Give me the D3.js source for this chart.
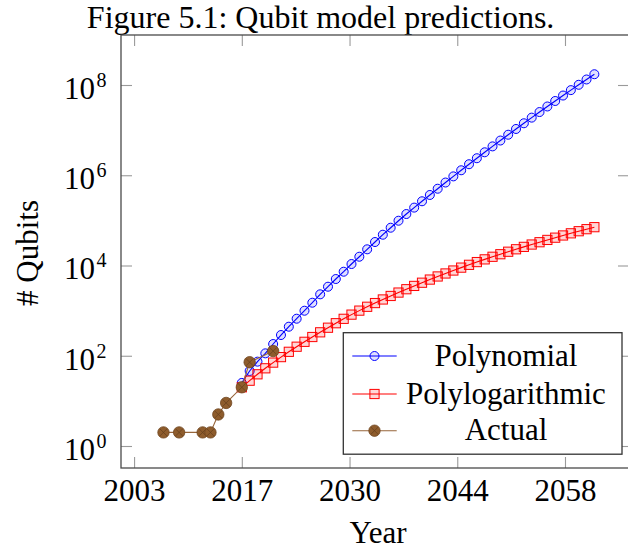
<!DOCTYPE html>
<html>
<head>
<meta charset="utf-8">
<script src="https://cdn.jsdelivr.net/npm/d3@7/dist/d3.min.js"></script>
<style>
  html, body { margin: 0; padding: 0; background: #fff; }
  svg { display: block; }
  text { font-family: "Liberation Serif", "Times New Roman", Times, serif; fill: #000; }
</style>
</head>
<body>
<svg id="chart" width="628" height="550"></svg>
<script>
// Measured qubit counts
const actualYears = [2007, 2009, 2012, 2013, 2014, 2015, 2017, 2018, 2021];
const actualQubits = [2, 2, 2, 2, 5, 9, 20, 72, 127];

// Model projections, one value per year
const predYears = [2017, 2018, 2019, 2020, 2021, 2022, 2023, 2024, 2025, 2026,
  2027, 2028, 2029, 2030, 2031, 2032, 2033, 2034, 2035, 2036,
  2037, 2038, 2039, 2040, 2041, 2042, 2043, 2044, 2045, 2046,
  2047, 2048, 2049, 2050, 2051, 2052, 2053, 2054, 2055, 2056,
  2057, 2058, 2059, 2060, 2061, 2062];

const polynomialQubits = [25, 46, 74, 113, 182, 288, 440, 662, 995, 1497,
  2298, 3387, 5017, 7281, 10785, 15650, 22830, 33140, 48100, 68760,
  98240, 138260, 191700, 265000, 365400, 502700, 690000, 944000, 1289000, 1755000,
  2384000, 3228000, 4362000, 5880000, 7905000, 10600000, 14180000, 18910000, 25170000, 33410000,
  44220000, 58410000, 76930000, 101100000, 132500000, 173200000];

const polylogQubits = [20, 28, 38.8, 52.7, 70.5, 93.3, 122.3, 158.6, 203.7, 260.2,
  330.7, 418.1, 526, 658.3, 815.6, 1000.5, 1217.6, 1471, 1767, 2113,
  2513, 2981, 3528, 4154, 4878, 5714, 6659, 7741, 8975, 10354,
  11912, 13675, 15612, 17780, 20203, 22889, 25870, 29160, 32800, 36880,
  41370, 46290, 51670, 57500, 63830, 70690];

// Axis ticks and their printed labels
const xTickValues = [2003.25, 2017, 2030.75, 2044.5, 2058.25];
const xTickLabels = ["2003", "2017", "2030", "2044", "2058"];
const yTickValues = [1, 1e2, 1e4, 1e6, 1e8];
const yTickExponents = ["0", "2", "4", "6", "8"];

const seriesNames = ["Polynomial", "Polylogarithmic", "Actual"];

const svg = d3.select("#chart");
const plotLeft = 121, plotRight = 629, plotTop = 35, plotBottom = 468;

const x = d3.scaleLinear().domain([2001.58, 2066.42]).range([plotLeft, plotRight]);
const y = d3.scaleLog().domain([Math.pow(10, -0.4875), Math.pow(10, 9.108)]).range([plotBottom, plotTop]);

const fontSize = 31;
const frameColor = "#4a4a4a";
const tickColor = "#9a9a9a";

// Title
svg.append("text")
  .attr("x", 320.6).attr("y", 28)
  .attr("text-anchor", "middle")
  .style("font-size", "32px")
  .text("Figure 5.1: Qubit model predictions.");

// Axes (ticks point inward, mirrored on top and right)
function styleAxis(g) {
  g.select(".domain").remove();
  g.selectAll(".tick line").attr("stroke", tickColor).attr("stroke-width", 1.1);
}

const xAxis = svg.append("g")
  .attr("transform", `translate(0,${plotBottom})`)
  .call(d3.axisBottom(x).tickValues(xTickValues)
    .tickFormat((d, i) => xTickLabels[i]).tickSize(-11).tickPadding(11));
styleAxis(xAxis);
xAxis.attr("font-family", null).attr("font-size", null);
xAxis.selectAll(".tick text").style("font-size", fontSize + "px");

svg.append("g")
  .attr("transform", `translate(0,${plotTop})`)
  .call(d3.axisTop(x).tickValues(xTickValues).tickFormat("").tickSize(-11))
  .call(styleAxis);

const yAxis = svg.append("g")
  .attr("transform", `translate(${plotLeft},0)`)
  .call(d3.axisLeft(y).tickValues(yTickValues).tickFormat("").tickSize(-11).tickPadding(14));
styleAxis(yAxis);
yAxis.attr("font-family", null).attr("font-size", null);
yAxis.selectAll(".tick").each(function (d, i) {
  const t = d3.select(this).select("text");
  t.attr("dy", null).attr("x", null).attr("y", 0).attr("text-anchor", null);
  t.append("tspan").attr("x", -26).attr("dy", "13.3px").attr("text-anchor", "end")
    .style("font-size", fontSize + "px").text("10");
  t.append("tspan").attr("x", -24.5).attr("dy", "-12px").attr("text-anchor", "start")
    .style("font-size", "20px").text(yTickExponents[i]);
});

svg.append("g")
  .attr("transform", `translate(${plotRight},0)`)
  .call(d3.axisRight(y).tickValues(yTickValues).tickFormat("").tickSize(-11))
  .call(styleAxis);

// Frame
svg.append("rect")
  .attr("x", plotLeft).attr("y", plotTop)
  .attr("width", plotRight - plotLeft).attr("height", plotBottom - plotTop)
  .attr("fill", "none").attr("stroke", frameColor).attr("stroke-width", 1.3);

// Axis titles
svg.append("text")
  .attr("x", 378).attr("y", 543)
  .attr("text-anchor", "middle")
  .style("font-size", fontSize + "px")
  .text("Year");

svg.append("text")
  .attr("transform", "translate(38,253) rotate(-90)")
  .attr("text-anchor", "middle")
  .style("font-size", fontSize + "px")
  .text("# Qubits");

// Series
const line = d3.line().x(d => x(d[0])).y(d => y(d[1]));
const polyData = predYears.map((yr, i) => [yr, polynomialQubits[i]]);
const plogData = predYears.map((yr, i) => [yr, polylogQubits[i]]);
const actData = actualYears.map((yr, i) => [yr, actualQubits[i]]);

const brownFill = "#8e5c2c", brownEdge = "#6e4520", brownLine = "#96653a";

function circleMark(g, cx, cy) {
  g.append("circle").attr("cx", cx).attr("cy", cy).attr("r", 4.5)
    .attr("fill", "rgba(0,0,255,0.12)").attr("stroke", "#0000ff").attr("stroke-width", 1);
}
function squareMark(g, cx, cy) {
  g.append("rect").attr("x", cx - 4.6).attr("y", cy - 4.6).attr("width", 9.2).attr("height", 9.2)
    .attr("fill", "rgba(255,0,0,0.16)").attr("stroke", "#ff0000").attr("stroke-width", 1);
}
function otimesMark(g, cx, cy) {
  const r = 5.7, k = r * 0.62;
  g.append("circle").attr("cx", cx).attr("cy", cy).attr("r", r)
    .attr("fill", brownFill).attr("stroke", brownEdge).attr("stroke-width", 0.8);
  g.append("path")
    .attr("d", `M${cx - k},${cy - k}L${cx + k},${cy + k}M${cx - k},${cy + k}L${cx + k},${cy - k}`)
    .attr("stroke", "#5a3818").attr("stroke-width", 0.7).attr("opacity", 0.8);
}

const gPoly = svg.append("g");
gPoly.append("path").datum(polyData).attr("d", line)
  .attr("fill", "none").attr("stroke", "#0000ff").attr("stroke-width", 1.1);
polyData.forEach(d => circleMark(gPoly, x(d[0]), y(d[1])));

const gPlog = svg.append("g");
gPlog.append("path").datum(plogData).attr("d", line)
  .attr("fill", "none").attr("stroke", "#ff0000").attr("stroke-width", 1.1);
plogData.forEach(d => squareMark(gPlog, x(d[0]), y(d[1])));

const gAct = svg.append("g");
gAct.append("path").datum(actData).attr("d", line)
  .attr("fill", "none").attr("stroke", brownLine).attr("stroke-width", 1.1);
actData.forEach(d => otimesMark(gAct, x(d[0]), y(d[1])));

// Legend
const lg = svg.append("g");
lg.append("rect").attr("x", 343.3).attr("y", 332.7).attr("width", 278.7).attr("height", 121.5)
  .attr("fill", "#fff").attr("stroke", "#333").attr("stroke-width", 1.3);
const rowY = [356, 394, 430.7];
const lineColors = ["#0000ff", "#ff0000", brownLine];
const markers = [circleMark, squareMark, otimesMark];
seriesNames.forEach((name, i) => {
  lg.append("line").attr("x1", 352.3).attr("x2", 396.7).attr("y1", rowY[i]).attr("y2", rowY[i])
    .attr("stroke", lineColors[i]).attr("stroke-width", 1.1);
  markers[i](lg, 374.5, rowY[i]);
  lg.append("text").attr("x", 506).attr("y", rowY[i] + 9.5)
    .attr("text-anchor", "middle").style("font-size", fontSize + "px").text(name);
});
</script>
</body>
</html>
